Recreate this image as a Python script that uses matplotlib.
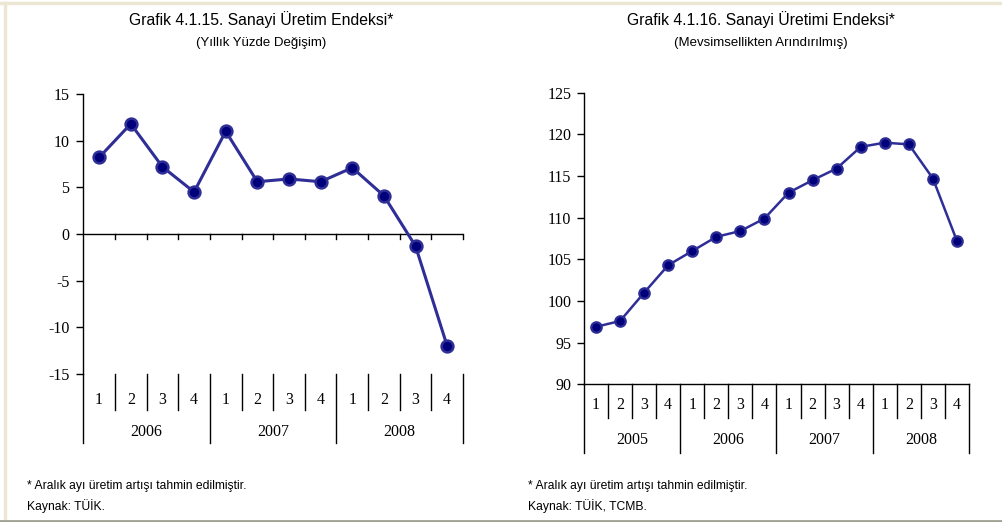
import matplotlib
matplotlib.use("Agg")
import matplotlib.pyplot as plt
from matplotlib.lines import Line2D

# Annual % change of the industrial production index (quarterly)
growth_years = ["2006", "2007", "2008"]
growth_values = [8.2, 11.8, 7.2, 4.5, 11.0, 5.6, 5.9, 5.6, 7.1, 4.1, -1.3, -12.0]
growth_yticks = [-15, -10, -5, 0, 5, 10, 15]

# Seasonally adjusted industrial production index (quarterly)
index_years = ["2005", "2006", "2007", "2008"]
index_values = [96.9, 97.6, 101.0, 104.3, 106.0, 107.7, 108.4, 109.9,
                113.0, 114.5, 115.9, 118.5, 119.0, 118.8, 114.7, 107.2]
index_yticks = [90, 95, 100, 105, 110, 115, 120, 125]

quarters = ["1", "2", "3", "4"]

SERIF = "Liberation Serif"
SANS = "Liberation Sans"
LINE_C = "#2e2e96"
FACE_C = "#00007a"
TICK_FS = 11.5

W, H = 1003, 522
fig = plt.figure(figsize=(W / 100, H / 100), dpi=100)
fig.patch.set_facecolor("white")


def px_axes(x0, x1, ytop, ybot):
    return fig.add_axes([x0 / W, (H - ybot) / H, (x1 - x0) / W, (ybot - ytop) / H])


def category_axis(ax, years, q_lo, y_lo, q_lab, y_lab):
    n = len(years) * 4
    tr = ax.get_xaxis_transform()
    for k in range(n + 1):
        bottom = y_lo if k % 4 == 0 else q_lo
        ax.add_line(Line2D([k, k], [0, bottom], transform=tr, color="black",
                           lw=1.0, clip_on=False))
    for k in range(n):
        ax.text(k + 0.5, q_lab, quarters[k % 4], transform=tr, ha="center",
                va="center", fontsize=TICK_FS, family=SERIF)
    for j, yr in enumerate(years):
        ax.text(j * 4 + 2, y_lab, yr, transform=tr, ha="center", va="center",
                fontsize=TICK_FS, family=SERIF)


def style_y(ax, ticks, pad):
    ax.set_yticks(ticks)
    ax.set_yticklabels([str(t) for t in ticks], family=SERIF, fontsize=TICK_FS)
    ax.tick_params(axis="y", direction="out", length=5, width=1, pad=pad)
    ax.set_xticks([])
    for s in ("top", "right"):
        ax.spines[s].set_visible(False)
    ax.spines["left"].set_linewidth(1.0)


# ---- Left chart: annual % change ----
ax1 = px_axes(83.3, 463, 94, 374)
x1 = [i + 0.5 for i in range(len(growth_values))]
ax1.set_xlim(0, len(growth_values))
ax1.set_ylim(-15, 15)
style_y(ax1, growth_yticks, 5)
ax1.spines["bottom"].set_visible(False)
ax1.axhline(0, color="black", lw=1.0)
for k in range(1, len(growth_values) + 1):
    ax1.plot([k, k], [0, -0.55], color="black", lw=1.0, clip_on=False)
ax1.plot(x1, growth_values, color=LINE_C, lw=2.2, marker="o", ms=8.5,
         mfc=FACE_C, mec=LINE_C, mew=1.8, clip_on=False, zorder=5)
category_axis(ax1, growth_years, -0.129, -0.246, -0.093, -0.207)

fig.text(261 / W, 1 - 20 / H, "Grafik 4.1.15. Sanayi Üretim Endeksi*",
         ha="center", va="center", fontsize=11.3, family=SANS)
fig.text(261 / W, 1 - 43 / H, "(Yıllık Yüzde Değişim)",
         ha="center", va="center", fontsize=9.5, family=SANS)
fig.text(27 / W, 1 - 486 / H, "* Aralık ayı üretim artışı tahmin edilmiştir.",
         ha="left", va="center", fontsize=8.7, family=SANS)
fig.text(27 / W, 1 - 506 / H, "Kaynak: TÜİK.",
         ha="left", va="center", fontsize=8.7, family=SANS)

# ---- Right chart: seasonally adjusted index ----
ax2 = px_axes(584, 969, 92.7, 384.3)
x2 = [i + 0.5 for i in range(len(index_values))]
ax2.set_xlim(0, len(index_values))
ax2.set_ylim(90, 125)
style_y(ax2, index_yticks, 4)
ax2.spines["bottom"].set_linewidth(1.0)
ax2.plot(x2, index_values, color=LINE_C, lw=1.8, marker="o", ms=7.5,
         mfc=FACE_C, mec=LINE_C, mew=1.6, clip_on=False, zorder=5)
category_axis(ax2, index_years, -0.116, -0.236, -0.071, -0.191)

fig.text(761 / W, 1 - 20 / H, "Grafik 4.1.16. Sanayi Üretimi Endeksi*",
         ha="center", va="center", fontsize=11.3, family=SANS)
fig.text(761 / W, 1 - 43 / H, "(Mevsimsellikten Arındırılmış)",
         ha="center", va="center", fontsize=9.5, family=SANS)
fig.text(528 / W, 1 - 486 / H, "* Aralık ayı üretim artışı tahmin edilmiştir.",
         ha="left", va="center", fontsize=8.7, family=SANS)
fig.text(528 / W, 1 - 506 / H, "Kaynak: TÜİK, TCMB.",
         ha="left", va="center", fontsize=8.7, family=SANS)

# page frame lines
fig.add_artist(Line2D([0, 1], [1 - 2.5 / H, 1 - 2.5 / H], color="#ece6d4", lw=2.5))
fig.add_artist(Line2D([5.5 / W, 5.5 / W], [1 - 2.5 / H, 1 - 520 / H], color="#ece6d4", lw=2.5))
fig.add_artist(Line2D([0, 1], [1 - 520.5 / H, 1 - 520.5 / H], color="#a0a094", lw=2.0))

fig.savefig("out.png", dpi=100, facecolor="white")
